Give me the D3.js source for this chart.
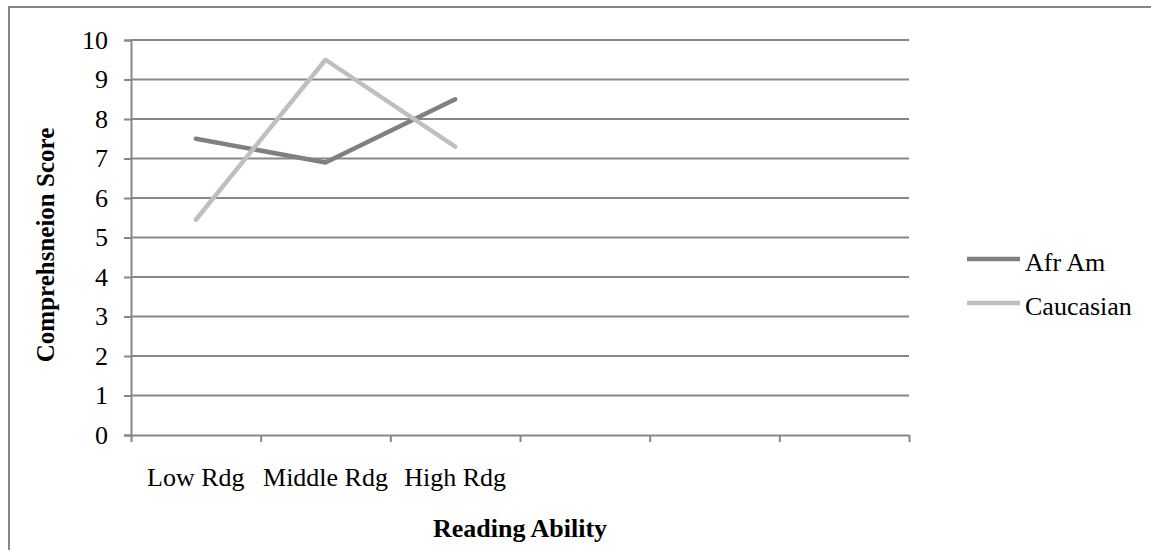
<!DOCTYPE html>
<html>
<head>
<meta charset="utf-8">
<script src="https://cdn.jsdelivr.net/npm/d3@7"></script>
<style>
  body { margin: 0; background: #fff; }
  svg { display: block; font-family: "Liberation Serif", "DejaVu Serif", serif; }
</style>
</head>
<body>
<div id="chart"></div>
<script>
// categories (last three slots are empty in the original sheet)
const categories = ["Low Rdg", "Middle Rdg", "High Rdg", "", "", ""];
const afrAm = [7.5, 6.9, 8.5];
const caucasian = [5.45, 9.5, 7.3];
const yTicks = [0, 1, 2, 3, 4, 5, 6, 7, 8, 9, 10];
const seriesNames = ["Afr Am", "Caucasian"];
const seriesColors = ["#808080", "#bfbfbf"];

const W = 1151, H = 550;
const plot = { left: 131, right: 909, top: 40, bottom: 435 };
const gridColor = "#878787";
const fs = 26;

const svg = d3.select("#chart").append("svg")
  .attr("width", W).attr("height", H);

// outer frame, cut off at right and bottom like the screenshot
svg.append("rect")
  .attr("x", 9).attr("y", 7)
  .attr("width", W + 20).attr("height", H + 20)
  .attr("fill", "none").attr("stroke", gridColor).attr("stroke-width", 2);

const x = d3.scaleLinear().domain([0, categories.length]).range([plot.left, plot.right]);
const y = d3.scaleLinear().domain([0, 10]).range([plot.bottom, plot.top]);

// gridlines
svg.append("g")
  .selectAll("line")
  .data(yTicks.slice(1))
  .join("line")
  .attr("x1", plot.left).attr("x2", plot.right)
  .attr("y1", d => y(d)).attr("y2", d => y(d))
  .attr("stroke", gridColor).attr("stroke-width", 2);

// y axis
const yAxis = svg.append("g")
  .attr("transform", `translate(${plot.left},0)`)
  .call(d3.axisLeft(y).tickValues(yTicks).tickSize(7).tickPadding(16).tickFormat(d3.format("d")));
yAxis.select(".domain").attr("stroke", gridColor).attr("stroke-width", 2);
yAxis.selectAll(".tick line").attr("stroke", gridColor).attr("stroke-width", 2);
yAxis.selectAll(".tick text").attr("font-size", fs).attr("fill", "#000")
  .attr("font-family", "Liberation Serif, serif");

// x axis: ticks at category boundaries
const xAxis = svg.append("g")
  .attr("transform", `translate(0,${plot.bottom})`)
  .call(d3.axisBottom(x).tickValues(d3.range(categories.length + 1)).tickSize(7).tickSizeOuter(0).tickFormat(""));
xAxis.select(".domain").attr("stroke", gridColor).attr("stroke-width", 2);
xAxis.selectAll(".tick line").attr("stroke", gridColor).attr("stroke-width", 2);

svg.append("g")
  .selectAll("text")
  .data(categories)
  .join("text")
  .attr("x", (d, i) => x(i + 0.5))
  .attr("y", 486)
  .attr("text-anchor", "middle")
  .attr("font-size", fs)
  .text(d => d);

// series lines
const line = d3.line().x((d, i) => x(i + 0.5)).y(d => y(d));
[afrAm, caucasian].forEach((s, k) => {
  svg.append("path")
    .datum(s)
    .attr("d", line)
    .attr("fill", "none")
    .attr("stroke", seriesColors[k])
    .attr("stroke-width", 4.5)
    .attr("stroke-linecap", "round")
    .attr("stroke-linejoin", "round");
});

// axis titles
svg.append("text")
  .attr("transform", "translate(54,245) rotate(-90)")
  .attr("text-anchor", "middle")
  .attr("font-size", 25).attr("font-weight", "bold")
  .text("Comprehsneion Score");

svg.append("text")
  .attr("x", 520).attr("y", 537)
  .attr("text-anchor", "middle")
  .attr("font-size", fs).attr("font-weight", "bold")
  .text("Reading Ability");

// legend
const legend = svg.append("g")
  .selectAll("g")
  .data(seriesNames)
  .join("g")
  .attr("transform", (d, i) => `translate(967,${259 + i * 44})`);
legend.append("line")
  .attr("x1", 0).attr("x2", 53)
  .attr("stroke", (d, i) => seriesColors[i])
  .attr("stroke-width", 4.5);
legend.append("text")
  .attr("x", 58).attr("y", 12)
  .attr("font-size", fs)
  .text(d => d);
</script>
</body>
</html>
